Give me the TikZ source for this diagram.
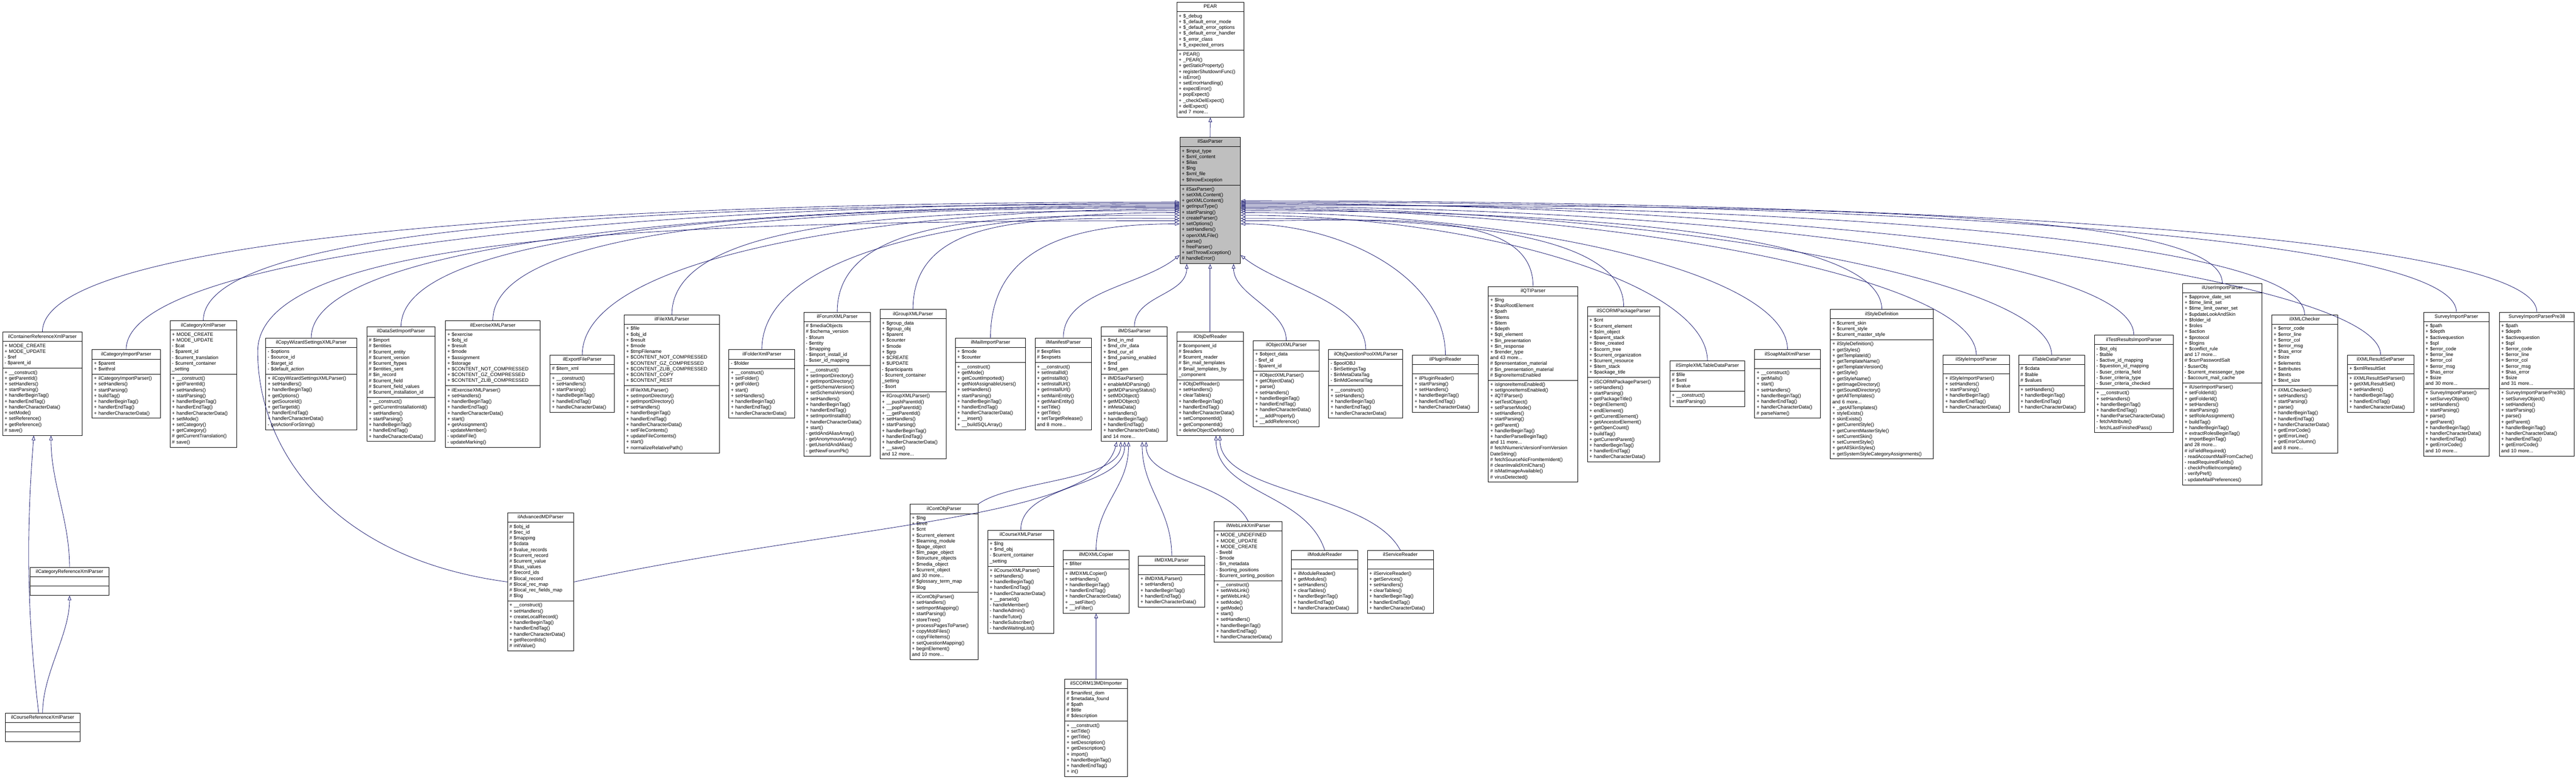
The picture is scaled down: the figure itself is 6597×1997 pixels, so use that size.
\documentclass[tikz,border=0pt]{standalone}
\usepackage{fontspec}
\setmainfont{Liberation Sans}
\usetikzlibrary{shapes.multipart,arrows.meta}
\definecolor{edgec}{RGB}{25,25,112}
\tikzset{
  cls/.style={draw=black, line width=1.2pt, fill=white, rectangle split, rectangle split parts=3,
    rectangle split ignore empty parts=false, anchor=north west, inner xsep=5pt, inner ysep=4pt,
    font=\fontsize{12.5}{14.8}\selectfont, align=left},
  basecls/.style={cls, fill=black!25},
  inh/.style={draw=edgec, line width=1.1pt, -{Triangle[open,length=12pt,width=9pt,line width=1.1pt]}}
}
\newcommand\umlc[8][]{\node[cls,text width=#5pt,#1] (#2) at (#3,-#4) {\hbox to\hsize{\hss\strut#6\hss}\nodepart{two}\strut#7\strut\nodepart{three}\strut#8\strut};}
\begin{document}
\catcode`\_=12 \catcode`\$=12 \catcode`\#=12
\begin{tikzpicture}[x=1pt,y=1pt]
\useasboundingbox (0,0) rectangle (6597,-1997);

\umlc{pear}{3013}{5.5}{162}{PEAR}{+ $_debug\\+ $_default_error_mode\\+ $_default_error_options\\+ $_default_error_handler\\+ $_error_class\\+ $_expected_errors}{+ PEAR()\\+ _PEAR()\\+ getStaticProperty()\\+ registerShutdownFunc()\\+ isError()\\+ setErrorHandling()\\+ expectError()\\+ popExpect()\\+ _checkDelExpect()\\+ delExpect()\\and 7 more...}
\umlc[basecls]{sax}{3021}{351}{145}{ilSaxParser}{+ $input_type\\+ $xml_content\\+ $ilias\\+ $lng\\+ $xml_file\\+ $throwException}{+ ilSaxParser()\\+ setXMLContent()\\+ getXMLContent()\\+ getInputType()\\+ startParsing()\\+ createParser()\\+ setOptions()\\+ setHandlers()\\+ openXMLFile()\\+ parse()\\+ freeParser()\\+ setThrowException()\\# handleError()}

\umlc{contref}{6}{850}{194}{ilContainerReferenceXmlParser}{+ MODE_CREATE\\+ MODE_UPDATE\\- $ref\\- $parent_id}{+ __construct()\\+ getParentId()\\+ setHandlers()\\+ startParsing()\\+ handlerBeginTag()\\+ handlerEndTag()\\+ handlerCharacterData()\\+ setMode()\\+ setReference()\\+ getReference()\\# save()}
\umlc{catimp}{235}{895}{165}{ilCategoryImportParser}{+ $parent\\+ $withrol}{+ ilCategoryImportParser()\\+ setHandlers()\\+ startParsing()\\+ buildTag()\\+ handlerBeginTag()\\+ handlerEndTag()\\+ handlerCharacterData()}
\umlc{catxml}{435}{821}{160}{ilCategoryXmlParser}{+ MODE_CREATE\\+ MODE_UPDATE\\- $cat\\- $parent_id\\- $current_translation\\- $current_container\\_setting}{+ __construct()\\+ getParentId()\\+ setHandlers()\\+ startParsing()\\+ handlerBeginTag()\\+ handlerEndTag()\\+ handlerCharacterData()\\+ setMode()\\+ setCategory()\\+ getCategory()\\# getCurrentTranslation()\\# save()}
\umlc{copywiz}{680}{865}{223}{ilCopyWizardSettingsXMLParser}{- $options\\- $source_id\\- $target_id\\- $default_action}{+ ilCopyWizardSettingsXMLParser()\\+ setHandlers()\\+ handlerBeginTag()\\+ getOptions()\\+ getSourceId()\\+ getTargetId()\\+ handlerEndTag()\\+ handlerCharacterData()\\- getActionForString()}
\umlc{dataset}{939}{836}{165}{ilDataSetImportParser}{# $import\\# $entities\\# $current_entity\\# $current_version\\# $current_ftypes\\# $entities_sent\\# $in_record\\# $current_field\\# $current_field_values\\# $current_installation_id}{+ __construct()\\+ getCurrentInstallationId()\\+ setHandlers()\\+ startParsing()\\+ handleBeginTag()\\+ handleEndTag()\\+ handleCharacterData()}
\umlc{exercise}{1140}{821}{233}{ilExerciseXMLParser}{+ $exercise\\+ $obj_id\\+ $result\\+ $mode\\+ $assignment\\+ $storage\\+ $CONTENT_NOT_COMPRESSED\\+ $CONTENT_GZ_COMPRESSED\\+ $CONTENT_ZLIB_COMPRESSED}{+ ilExerciseXMLParser()\\+ setHandlers()\\+ handlerBeginTag()\\+ handlerEndTag()\\+ handlerCharacterData()\\+ start()\\+ getAssignment()\\- updateMember()\\- updateFile()\\- updateMarking()}
\umlc{exportfile}{1408}{909}{155}{ilExportFileParser}{# $item_xml}{+ __construct()\\+ setHandlers()\\+ startParsing()\\+ handleBeginTag()\\+ handleEndTag()\\+ handleCharacterData()}
\umlc{filexml}{1598}{806}{234}{ilFileXMLParser}{+ $file\\+ $obj_id\\+ $result\\+ $mode\\+ $tmpFilename\\+ $CONTENT_NOT_COMPRESSED\\+ $CONTENT_GZ_COMPRESSED\\+ $CONTENT_ZLIB_COMPRESSED\\+ $CONTENT_COPY\\+ $CONTENT_REST}{+ ilFileXMLParser()\\+ setImportDirectory()\\+ getImportDirectory()\\+ setHandlers()\\+ handlerBeginTag()\\+ handlerEndTag()\\+ handlerCharacterData()\\+ setFileContents()\\+ updateFileContents()\\+ start()\\+ normalizeRelativePath()}
\umlc{folder}{1866}{895}{159}{ilFolderXmlParser}{- $folder}{+ __construct()\\+ setFolder()\\+ getFolder()\\+ start()\\+ setHandlers()\\+ handlerBeginTag()\\+ handlerEndTag()\\+ handlerCharacterData()}
\umlc{forum}{2058}{799}{161}{ilForumXMLParser}{# $mediaObjects\\# $schema_version\\- $forum\\- $entity\\- $mapping\\- $import_install_id\\- $user_id_mapping}{+ __construct()\\+ setImportDirectory()\\+ getImportDirectory()\\+ getSchemaVersion()\\+ setSchemaVersion()\\+ setHandlers()\\+ handlerBeginTag()\\+ handlerEndTag()\\+ setImportInstallId()\\+ handlerCharacterData()\\+ start()\\- getIdAndAliasArray()\\- getAnonymousArray()\\- getUserIdAndAlias()\\- getNewForumPk()}
\umlc{group}{2253}{792}{159}{ilGroupXMLParser}{+ $group_data\\+ $group_obj\\+ $parent\\+ $counter\\+ $mode\\+ $grp\\+ $CREATE\\+ $UPDATE\\- $participants\\- $current_container\\_setting\\- $sort}{+ ilGroupXMLParser()\\+ __pushParentId()\\+ __popParentId()\\+ __getParentId()\\+ setHandlers()\\+ startParsing()\\+ handlerBeginTag()\\+ handlerEndTag()\\+ handlerCharacterData()\\+ __save()\\and 12 more...}
\umlc{mail}{2446}{865}{170}{ilMailImportParser}{+ $mode\\+ $counter}{+ __construct()\\+ getMode()\\+ getCountImported()\\+ getNotAssignableUsers()\\+ setHandlers()\\+ startParsing()\\+ handlerBeginTag()\\+ handlerEndTag()\\+ handlerCharacterData()\\+ __insert()\\+ __buildSQLArray()}
\umlc{manifest}{2650}{865}{135}{ilManifestParser}{# $expfiles\\# $expsets}{+ __construct()\\+ setInstallId()\\+ getInstallId()\\+ setInstallUrl()\\+ getInstallUrl()\\+ setMainEntity()\\+ getMainEntity()\\+ setTitle()\\+ getTitle()\\+ setTargetRelease()\\and 8 more...}
\umlc{mdsax}{2820}{836}{159}{ilMDSaxParser}{+ $md_in_md\\+ $md_chr_data\\+ $md_cur_el\\+ $md_parsing_enabled\\+ $md\\+ $md_gen}{+ ilMDSaxParser()\\+ enableMDParsing()\\+ getMDParsingStatus()\\+ setMDObject()\\+ getMDObject()\\+ inMetaData()\\+ setHandlers()\\+ handlerBeginTag()\\+ handlerEndTag()\\+ handlerCharacterData()\\and 14 more...}
\umlc{objdef}{3013}{850}{161}{ilObjDefReader}{# $component_id\\# $readers\\# $current_reader\\# $in_mail_templates\\# $mail_templates_by\\_component}{+ ilObjDefReader()\\+ setHandlers()\\+ clearTables()\\+ handlerBeginTag()\\+ handlerEndTag()\\+ handlerCharacterData()\\+ setComponentId()\\+ getComponentId()\\+ deleteObjectDefinition()}
\umlc{objectxml}{3209}{872}{159}{ilObjectXMLParser}{+ $object_data\\- $ref_id\\- $parent_id}{+ ilObjectXMLParser()\\+ getObjectData()\\+ parse()\\+ setHandlers()\\+ handlerBeginTag()\\+ handlerEndTag()\\+ handlerCharacterData()\\+ __addProperty()\\+ __addReference()}
\umlc{qpool}{3402}{895}{180}{ilObjQuestionPoolXMLParser}{- $poolOBJ\\- $inSettingsTag\\- $inMetaDataTag\\- $inMdGeneralTag}{+ __construct()\\+ setHandlers()\\+ handlerBeginTag()\\+ handlerEndTag()\\+ handlerCharacterData()}
\umlc{plugin}{3617}{909}{158}{ilPluginReader}{}{+ ilPluginReader()\\+ startParsing()\\+ setHandlers()\\+ handlerBeginTag()\\+ handlerEndTag()\\+ handlerCharacterData()}
\umlc{qti}{3811}{733}{219}{ilQTIParser}{+ $lng\\+ $hasRootElement\\+ $path\\+ $items\\+ $item\\+ $depth\\+ $qti_element\\+ $in_presentation\\+ $in_response\\+ $render_type\\and 43 more...\\# $prensentation_material\\# $in_prensentation_material\\# $ignoreItemsEnabled}{+ isIgnoreItemsEnabled()\\+ setIgnoreItemsEnabled()\\+ ilQTIParser()\\+ setTestObject()\\+ setParserMode()\\+ setHandlers()\\+ startParsing()\\+ getParent()\\+ handlerBeginTag()\\+ handlerParseBeginTag()\\and 11 more...\\# fetchNumericVersionFromVersion\\DateString()\\# fetchSourceNicFromItemIdent()\\# cleanInvalidXmlChars()\\# isMatImageAvailable()\\# virusDetected()}
\umlc{scormpkg}{4065}{785}{175}{ilSCORMPackageParser}{+ $cnt\\+ $current_element\\+ $slm_object\\+ $parent_stack\\+ $tree_created\\+ $scorm_tree\\+ $current_organization\\+ $current_resource\\+ $item_stack\\+ $package_title}{+ ilSCORMPackageParser()\\+ setHandlers()\\+ startParsing()\\+ getPackageTitle()\\+ beginElement()\\+ endElement()\\+ getCurrentElement()\\+ getAncestorElement()\\+ getOpenCount()\\+ buildTag()\\+ getCurrentParent()\\+ handlerBeginTag()\\+ handlerEndTag()\\+ handlerCharacterData()}
\umlc{simplexml}{4276}{924}{182}{ilSimpleXMLTableDataParser}{# $file\\# $xml\\# $value}{+ __construct()\\+ startParsing()}
\umlc{soapmail}{4493}{895}{158}{ilSoapMailXmlParser}{}{+ __construct()\\+ getMails()\\+ start()\\+ setHandlers()\\+ handlerBeginTag()\\+ handlerEndTag()\\+ handlerCharacterData()\\# parseName()}
\umlc{styledef}{4687}{792}{253}{ilStyleDefinition}{+ $current_skin\\+ $current_style\\+ $current_master_style}{+ ilStyleDefinition()\\+ getStyles()\\+ getTemplateId()\\+ getTemplateName()\\+ getTemplateVersion()\\+ getStyle()\\+ getStyleName()\\+ getImageDirectory()\\+ getSoundDirectory()\\+ getAllTemplates()\\and 6 more...\\+ _getAllTemplates()\\+ styleExists()\\+ skinExists()\\+ getCurrentStyle()\\+ getCurrentMasterStyle()\\+ setCurrentSkin()\\+ setCurrentStyle()\\+ getAllSkinStyles()\\+ getSystemStyleCategoryAssignments()}
\umlc{styleimp}{4976}{909}{159}{ilStyleImportParser}{}{+ ilStyleImportParser()\\+ setHandlers()\\+ startParsing()\\+ handlerBeginTag()\\+ handlerEndTag()\\+ handlerCharacterData()}
\umlc{tabledata}{5169}{909}{159}{ilTableDataParser}{# $cdata\\# $table\\# $values}{+ setHandlers()\\+ handlerBeginTag()\\+ handlerEndTag()\\+ handlerCharacterData()}
\umlc{testres}{5363}{858}{192}{ilTestResultsImportParser}{- $tst_obj\\- $table\\- $active_id_mapping\\- $question_id_mapping\\- $user_criteria_field\\- $user_criteria_type\\- $user_criteria_checked}{+ __construct()\\+ setHandlers()\\+ handlerBeginTag()\\+ handlerEndTag()\\+ handlerParseCharacterData()\\- fetchAttribute()\\- fetchLastFinishedPass()}
\umlc{userimp}{5589}{725}{193}{ilUserImportParser}{+ $approve_date_set\\+ $time_limit_set\\+ $time_limit_owner_set\\+ $updateLookAndSkin\\+ $folder_id\\+ $roles\\+ $action\\+ $protocol\\+ $logins\\+ $conflict_rule\\and 17 more...\\# $currPasswordSalt\\- $userObj\\- $current_messenger_type\\- $account_mail_cache}{+ ilUserImportParser()\\+ setFolderId()\\+ getFolderId()\\+ setHandlers()\\+ startParsing()\\+ setRoleAssignment()\\+ buildTag()\\+ handlerBeginTag()\\+ extractRolesBeginTag()\\+ importBeginTag()\\and 28 more...\\# isFieldRequired()\\- readAccountMailFromCache()\\- readRequiredFields()\\- checkProfileIncomplete()\\- verifyPref()\\- updateMailPreferences()}
\umlc{xmlchecker}{5817}{806}{159}{ilXMLChecker}{+ $error_code\\+ $error_line\\+ $error_col\\+ $error_msg\\+ $has_error\\+ $size\\+ $elements\\+ $attributes\\+ $texts\\+ $text_size}{+ ilXMLChecker()\\+ setHandlers()\\+ startParsing()\\+ parse()\\+ handlerBeginTag()\\+ handlerEndTag()\\+ handlerCharacterData()\\+ getErrorCode()\\+ getErrorLine()\\+ getErrorColumn()\\and 8 more...}
\umlc{xmlresult}{6011}{909}{160}{ilXMLResultSetParser}{+ $xmlResultSet}{+ ilXMLResultSetParser()\\+ getXMLResultSet()\\+ setHandlers()\\+ handlerBeginTag()\\+ handlerEndTag()\\+ handlerCharacterData()}
\umlc{survey}{6206}{799}{158}{SurveyImportParser}{+ $path\\+ $depth\\+ $activequestion\\+ $spl\\+ $error_code\\+ $error_line\\+ $error_col\\+ $error_msg\\+ $has_error\\+ $size\\and 30 more...}{+ SurveyImportParser()\\+ setSurveyObject()\\+ setHandlers()\\+ startParsing()\\+ parse()\\+ getParent()\\+ handlerBeginTag()\\+ handlerCharacterData()\\+ handlerEndTag()\\+ getErrorCode()\\and 10 more...}
\umlc{surveypre}{6400}{799}{182}{SurveyImportParserPre38}{+ $path\\+ $depth\\+ $activequestion\\+ $spl\\+ $error_code\\+ $error_line\\+ $error_col\\+ $error_msg\\+ $has_error\\+ $size\\and 31 more...}{+ SurveyImportParserPre38()\\+ setSurveyObject()\\+ setHandlers()\\+ startParsing()\\+ parse()\\+ getParent()\\+ handlerBeginTag()\\+ handlerCharacterData()\\+ handlerEndTag()\\+ getErrorCode()\\and 10 more...}

\umlc{catref}{76}{1452}{193}{ilCategoryReferenceXmlParser}{}{}
\umlc{courseref}{13}{1826}{181}{ilCourseReferenceXmlParser}{}{}
\umlc{advmd}{1299}{1313}{160}{ilAdvancedMDParser}{# $obj_id\\# $rec_id\\# $mapping\\# $cdata\\# $value_records\\# $current_record\\# $current_value\\# $has_values\\# $record_ids\\# $local_record\\# $local_rec_map\\# $local_rec_fields_map\\# $log}{+ __construct()\\+ setHandlers()\\+ createLocalRecord()\\+ handlerBeginTag()\\+ handlerEndTag()\\+ handlerCharacterData()\\+ getRecordIds()\\# initValue()}
\umlc{contobj}{2330}{1291}{164}{ilContObjParser}{+ $lng\\+ $tree\\+ $cnt\\+ $current_element\\+ $learning_module\\+ $page_object\\+ $lm_page_object\\+ $structure_objects\\+ $media_object\\+ $current_object\\and 30 more...\\# $glossary_term_map\\# $log}{+ ilContObjParser()\\+ setHandlers()\\+ setImportMapping()\\+ startParsing()\\+ storeTree()\\+ processPagesToParse()\\+ copyMobFiles()\\+ copyFileItems()\\+ setQuestionMapping()\\+ beginElement()\\and 10 more...}
\umlc{coursexml}{2529}{1357}{159}{ilCourseXMLParser}{+ $lng\\+ $md_obj\\- $current_container\\_setting}{+ ilCourseXMLParser()\\+ setHandlers()\\+ handlerBeginTag()\\+ handlerEndTag()\\+ handlerCharacterData()\\+ __parseId()\\- handleMember()\\- handleAdmin()\\- handleTutor()\\- handleSubscriber()\\- handleWaitingList()}
\umlc{mdcopier}{2722}{1409}{159}{ilMDXMLCopier}{+ $filter}{+ ilMDXMLCopier()\\+ setHandlers()\\+ handlerBeginTag()\\+ handlerEndTag()\\+ handlerCharacterData()\\+ __setFilter()\\+ __inFilter()}
\umlc{mdxml}{2915}{1423}{160}{ilMDXMLParser}{}{+ ilMDXMLParser()\\+ setHandlers()\\+ handlerBeginTag()\\+ handlerEndTag()\\+ handlerCharacterData()}
\umlc{scormmd}{2726}{1739}{151}{ilSCORM13MDImporter}{# $manifest_dom\\# $metadata_found\\# $path\\# $title\\# $description}{+ __construct()\\+ setTitle()\\+ getTitle()\\+ setDescription()\\+ getDescription()\\+ import()\\+ handlerBeginTag()\\+ handlerEndTag()\\+ in()}
\umlc{weblink}{3109}{1335}{164}{ilWebLinkXmlParser}{+ MODE_UNDEFINED\\+ MODE_UPDATE\\+ MODE_CREATE\\- $webl\\- $mode\\- $in_metadata\\- $sorting_positions\\- $current_sorting_position}{+ __construct()\\+ setWebLink()\\+ getWebLink()\\+ setMode()\\+ getMode()\\+ start()\\+ setHandlers()\\+ handlerBeginTag()\\+ handlerEndTag()\\+ handlerCharacterData()}
\umlc{module}{3307}{1409}{160}{ilModuleReader}{}{+ ilModuleReader()\\+ getModules()\\+ setHandlers()\\+ clearTables()\\+ handlerBeginTag()\\+ handlerEndTag()\\+ handlerCharacterData()}
\umlc{service}{3501}{1409}{159}{ilServiceReader}{}{+ ilServiceReader()\\+ getServices()\\+ setHandlers()\\+ clearTables()\\+ handlerBeginTag()\\+ handlerEndTag()\\+ handlerCharacterData()}

% edges
\draw[inh] (sax.north) -- (pear.south);
\foreach \c/\s/\l in {contref/-4/1450, catimp/-7/1350, catxml/-10/1250, copywiz/-13/1110, dataset/-16/1000, exercise/-19/880, exportfile/-22/765, filexml/-26/650, folder/-31/535, forum/-38/440, group/-46/340, mail/-60/240}
  \draw[inh] (\c.north) .. controls +(0,250) and +(-\l,0) .. ([yshift=\s pt]sax.west);
\foreach \c/\s/\l in {plugin/-60/260, qti/-52/375, scormpkg/-46/490, simplexml/-38/600, soapmail/-31/700, styledef/-26/820, styleimp/-22/940, tabledata/-19/1040, testres/-16/1145, userimp/-13/1255, xmlchecker/-10/1360, xmlresult/-7/1460, survey/-4/1555, surveypre/-1/1660}
  \draw[inh] (\c.north) .. controls +(0,200) and +(\l,0) .. ([yshift=\s pt]sax.east);
\coordinate (advbend) at (660,-900);
\draw[inh] (advmd.west) .. controls +(-450,60) and +(0,-250) .. (advbend) .. controls +(0,300) and +(-1300,0) .. ([yshift=-52pt]sax.west);
\draw[inh] (manifest.north) .. controls +(0,120) and +(-100,-80) .. ([yshift=-140pt]sax.west);
\draw[inh] (mdsax.north) .. controls +(0,80) and +(0,-80) .. ([xshift=-60pt]sax.south);
\draw[inh] (objdef.north) -- (objdef.north |- sax.south);
\draw[inh] (objectxml.north) .. controls +(0,80) and +(0,-80) .. ([xshift=60pt]sax.south);
\draw[inh] (qpool.north) .. controls +(0,120) and +(100,-80) .. ([yshift=-140pt]sax.east);

\draw[inh] (catref.north) .. controls +(0,120) and +(0,-120) .. ([xshift=22pt]contref.south);
\draw[inh] (courseref.north) .. controls +(0,100) and +(0,-100) .. (catref.south);
\draw[inh] ([xshift=-10pt]courseref.north) .. controls +(-30,250) and +(-20,-250) .. ([xshift=-22pt]contref.south);
\draw[inh] (contobj.north east) .. controls +(80,60) and +(0,-100) .. ([xshift=-35pt]mdsax.south);
\draw[inh] (coursexml.north) .. controls +(0,120) and +(0,-120) .. ([xshift=-25pt]mdsax.south);
\draw[inh] (mdcopier.north) .. controls +(0,120) and +(0,-120) .. ([xshift=-15pt]mdsax.south);
\draw[inh] (mdxml.north) .. controls +(0,120) and +(0,-120) .. ([xshift=20pt]mdsax.south);
\draw[inh] (weblink.north) .. controls +(-50,100) and +(0,-100) .. ([xshift=30pt]mdsax.south);
\draw[inh] (advmd.east) .. controls +(700,150) and +(-50,-200) .. ([xshift=-45pt]mdsax.south);
\draw[inh] (scormmd.north) -- (scormmd.north |- mdcopier.south);
\draw[inh] (module.north) .. controls +(-50,150) and +(0,-150) .. ([xshift=15pt]objdef.south);
\draw[inh] (service.north) .. controls +(-80,150) and +(0,-150) .. ([xshift=25pt]objdef.south);
\end{tikzpicture}
\end{document}
